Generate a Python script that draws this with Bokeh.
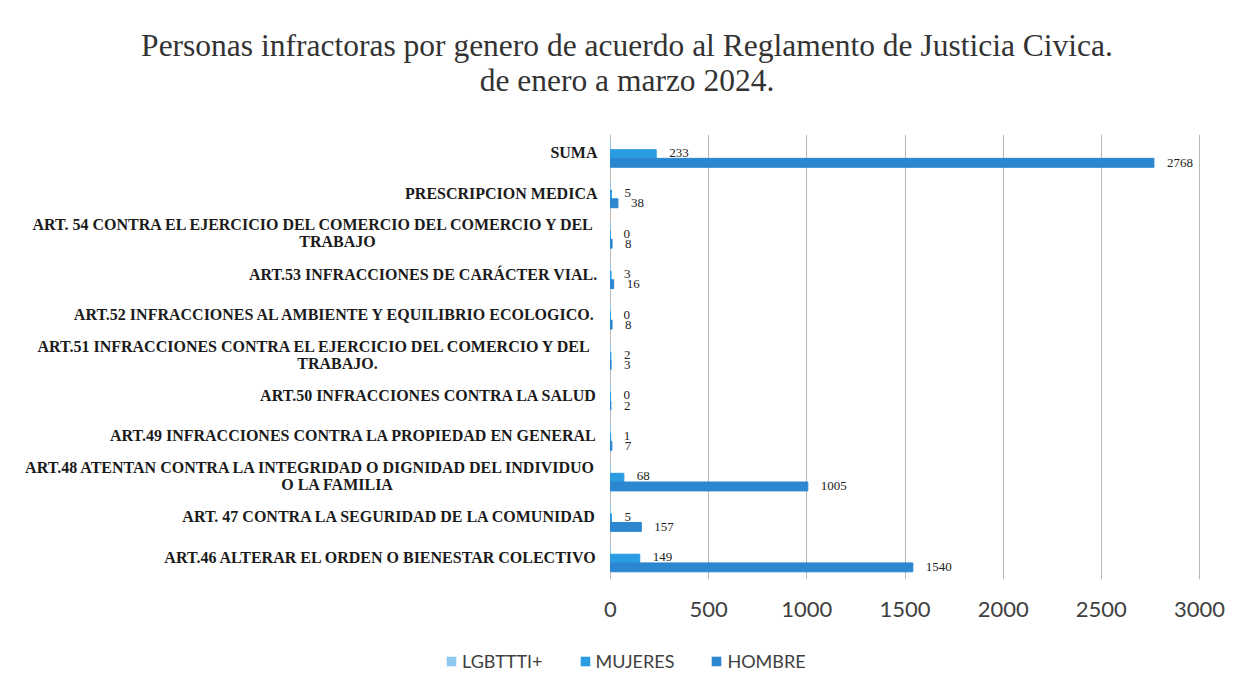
from bokeh.plotting import figure
from bokeh.layouts import column
from bokeh.models import ColumnDataSource, FactorRange, Legend, LegendItem, FixedTicker, Label
from bokeh.transform import dodge
from bokeh.embed import file_html
from bokeh.resources import INLINE

# ---- data (bottom to top, as in the chart) ----
categories = [
    "ART.46 ALTERAR EL ORDEN O BIENESTAR COLECTIVO",
    "ART. 47 CONTRA LA SEGURIDAD DE LA COMUNIDAD",
    "ART.48 ATENTAN CONTRA LA INTEGRIDAD O DIGNIDAD DEL INDIVIDUO\nO LA FAMILIA",
    "ART.49 INFRACCIONES CONTRA LA PROPIEDAD EN GENERAL",
    "ART.50 INFRACCIONES CONTRA LA SALUD",
    "ART.51 INFRACCIONES CONTRA EL EJERCICIO DEL COMERCIO  Y DEL\nTRABAJO.",
    "ART.52 INFRACCIONES AL AMBIENTE Y EQUILIBRIO ECOLOGICO.",
    "ART.53 INFRACCIONES DE CARÁCTER VIAL.",
    "ART. 54 CONTRA EL EJERCICIO DEL COMERCIO DEL COMERCIO Y DEL\nTRABAJO",
    "PRESCRIPCION MEDICA",
    "SUMA",
]
lgbt = [0, 0, 0, 0, 0, 0, 0, 0, 0, 0, 0]
mujeres = [149, 5, 68, 1, 0, 2, 0, 3, 0, 5, 233]
hombre = [1540, 157, 1005, 7, 2, 3, 8, 16, 8, 38, 2768]
x_ticks = [0, 500, 1000, 1500, 2000, 2500, 3000]
title_lines = ["Personas infractoras por genero de acuerdo al Reglamento de Justicia Civica.",
               "de enero a marzo 2024."]
series_names = ["LGBTTTI+", "MUJERES", "HOMBRE"]

# ---- layout constants (pixels) ----
W = 1249
H_TITLE, H_MAIN, H_LEG = 134, 500, 56
AX0_PX, AX1_PX = 610, 1199          # pixel position of 0 and of the last tick
BOTTOM = 55
xmax = x_ticks[-1]
px_per_unit = (AX1_PX - AX0_PX) / xmax
x_start = -AX0_PX / px_per_unit
x_end = xmax + (W - AX1_PX) / px_per_unit

line1 = [c.split("\n")[0] for c in categories]
line2 = [c.split("\n")[1] if "\n" in c else "" for c in categories]
two = ["\n" in c for c in categories]

src = ColumnDataSource(dict(
    cat=categories, lgbt=lgbt, m=mujeres, h=hombre,
    m_lbl=[str(v) for v in mujeres], h_lbl=[str(v) for v in hombre],
    l1=line1, l2=line2,
    l1_off=[-11 if t else -2 for t in two],
    l2_off=[6 if t else 0 for t in two],
))


def bare(fig):
    fig.outline_line_color = None
    fig.background_fill_color = "white"
    fig.border_fill_color = "white"


# ---- title strip ----
pt = figure(width=W, height=H_TITLE, output_backend="svg", toolbar_location=None,
            x_range=(0, 1), y_range=(0, 1), min_border=0, title=None)
pt.axis.visible = False
pt.grid.visible = False
bare(pt)
for txt, y in zip(title_lines, [H_TITLE - 45, H_TITLE - 80]):
    pt.add_layout(Label(x=W / 2 + 2, y=y, x_units="screen", y_units="screen", text=txt,
                        text_font="Liberation Serif", text_font_size="31.5px",
                        text_color="#333333", text_align="center", text_baseline="middle"))

# ---- main chart ----
p = figure(width=W, height=H_MAIN, output_backend="svg", toolbar_location=None, title=None,
           y_range=FactorRange(*categories, range_padding=0),
           x_range=(x_start, x_end),
           min_border=0, min_border_bottom=BOTTOM)
bare(p)

c_lgbt = "#8EC8EE"
c_muj = "#2A9DE2"
c_hom = "#2C86D0"

p.hbar(y=dodge("cat", 0.22, range=p.y_range), right="lgbt", left=0, height=0.22,
       source=src, color=c_lgbt)
p.hbar(y=dodge("cat", 0.0, range=p.y_range), right="m", left=0, height=0.25,
       source=src, color=c_muj)
p.hbar(y=dodge("cat", -0.2, range=p.y_range), right="h", left=0, height=0.22,
       source=src, color=c_hom)

lbl_kw = dict(text_font="Liberation Serif", text_font_size="13px", text_color="#222222",
              text_baseline="middle", text_align="left", x_offset=13)
p.text(x="m", y=dodge("cat", 0.0, range=p.y_range), text="m_lbl", source=src,
       y_offset=-2, **lbl_kw)
p.text(x="h", y=dodge("cat", -0.2, range=p.y_range), text="h_lbl", source=src, **lbl_kw)

# category labels
cat_kw = dict(text_font="Liberation Serif", text_font_style="bold", text_font_size="16px",
              text_color="#1a1a1a", text_baseline="middle")
p.text(x=0, y="cat", text="l1", source=src, x_offset=-13, y_offset="l1_off",
       text_align="right", **cat_kw)
p.text(x=0, y="cat", text="l2", source=src, x_offset=-273, y_offset="l2_off",
       text_align="center", **cat_kw)

# axes
p.yaxis.visible = False
p.xaxis.ticker = FixedTicker(ticks=x_ticks)
p.xaxis.axis_line_color = None
p.xaxis.major_tick_line_color = None
p.xaxis.major_tick_out = 0
p.xaxis.minor_tick_line_color = None
p.xaxis.major_label_text_font = "Lato"
p.xaxis.major_label_text_font_size = "22px"
p.xaxis.major_label_text_color = "#404040"
p.xaxis.major_label_standoff = 22

p.xgrid.grid_line_color = "#B8B8B8"
p.xgrid.ticker = FixedTicker(ticks=x_ticks)
p.ygrid.grid_line_color = None

# ---- legend strip ----
pl = figure(width=W, height=H_LEG, output_backend="svg", toolbar_location=None, title=None,
            x_range=(0, 1), y_range=(0, 1), min_border=0)
pl.axis.visible = False
pl.grid.visible = False
bare(pl)
items = []
for name, col in zip(series_names, [c_lgbt, c_muj, c_hom]):
    # zero-length proxy bar: draws nothing, only provides the legend swatch
    r = pl.hbar(y=[0], right=[0], left=[0], height=0, fill_color=col, line_color=None)
    items.append(LegendItem(label=name, renderers=[r]))
legend = Legend(items=items, orientation="horizontal", location=(445, 18),
                glyph_width=12, glyph_height=12, label_standoff=5, spacing=36,
                padding=0, margin=0, border_line_color=None, background_fill_alpha=0,
                label_text_font="Lato", label_text_font_size="18px",
                label_text_color="#404040", label_height=20)
pl.add_layout(legend)

layout = column(pt, p, pl, spacing=0)
open("out.html", "w").write(file_html(layout, INLINE))
